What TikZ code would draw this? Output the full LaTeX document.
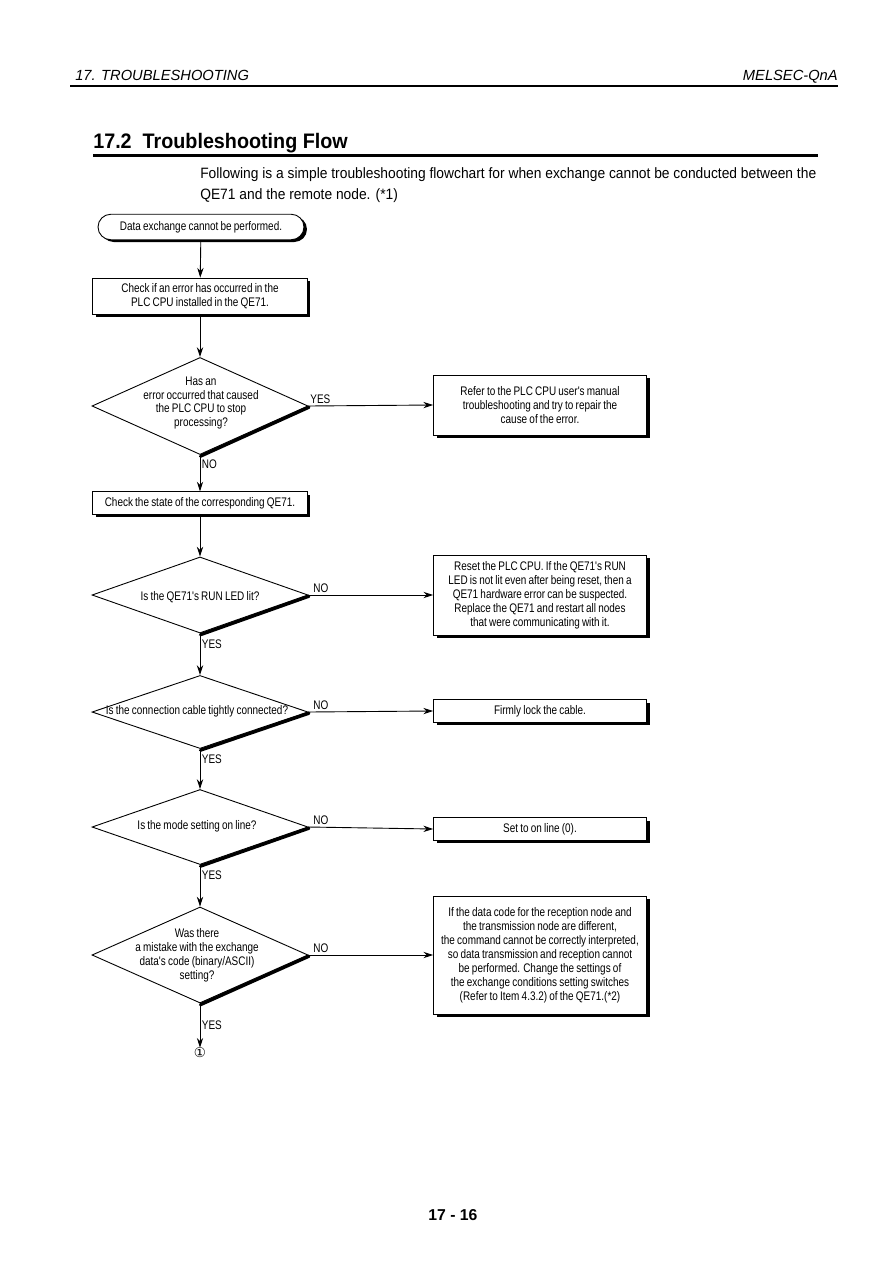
\documentclass[tikz,border=0pt]{standalone}
\usepackage{fontspec}
\setmainfont{Liberation Sans}
\newfontfamily\narrowsans[FakeStretch=0.8, WordSpace=0.8]{Liberation Sans}
\newfontfamily\symfont{DejaVu Sans}
\usepackage{tikz}
\usetikzlibrary{shapes.geometric,shapes.misc,arrows.meta,positioning,shadows,calc}
\newcommand\boxfont{\narrowsans\fontsize{8.3}{9.3}\selectfont}
\tikzset{
  term/.style   ={rounded rectangle, draw, line width=0.6pt, fill=white, font=\boxfont,
                  minimum width=144pt, minimum height=17pt,
                  drop shadow={shadow xshift=2pt, shadow yshift=-1.5pt, fill=black, opacity=1}},
  pbox/.style   ={rectangle, draw, line width=0.5pt, fill=white, font=\boxfont, align=center,
                  minimum width=143pt, inner sep=2pt,
                  drop shadow={shadow xshift=2pt, shadow yshift=-2pt, fill=black, opacity=1}},
  rbox/.style   ={pbox, minimum width=142pt},
  dec/.style    ={diamond, draw, line width=0.6pt, minimum width=144pt, inner sep=0pt},
  dtext/.style  ={font=\boxfont, align=center, inner sep=0pt},
  dshadow/.style={line width=2.2pt, line cap=round},
  flow/.style   ={-{Stealth[length=6.5pt,width=4.2pt]}, line width=0.6pt},
  yn/.style     ={font=\narrowsans\fontsize{8.3}{9}\selectfont, inner sep=1pt}
}
\begin{document}
\begin{tikzpicture}[x=0.6667pt, y=-0.6667pt]
  \useasboundingbox (0,0) rectangle (893,1263);

  % page header
  \node[anchor=base west, font=\itshape\fontsize{9.8}{11}\selectfont, inner sep=0pt] (hdl) at (75,80) {17. TROUBLESHOOTING};
  \node[anchor=base east, font=\itshape\fontsize{9.8}{11}\selectfont, inner sep=0pt] (hdr) at (838,80) {MELSEC-QnA};
  \draw[line width=0.8pt] (70,86) -- (838,86);
  \node[anchor=base west, font=\bfseries\fontsize{14}{16}\selectfont\addfontfeature{FakeStretch=0.94}, inner sep=0pt] (ttl) at (93,148) {17.2\ \ Troubleshooting Flow};
  \draw[line width=2pt] (93,155) -- (818,155);
  \node[anchor=north west, align=left, inner sep=0pt, font=\fontsize{10}{14}\selectfont\addfontfeature{FakeStretch=0.92}] (intro) at (200,167)
    {Following is a simple troubleshooting flowchart for when exchange cannot be conducted between the\\QE71 and the remote node. (*1)};

  % main column
  \node[term] (start) at (201,227) {Data exchange cannot be performed.};
  \node[pbox, minimum height=24pt] (chk1) at (200,296) {Check if an error has occurred in the\\PLC CPU installed in the QE71.};
  \node[dec, minimum height=64.7pt] (d1) at (200,406) {};
  \node[dtext] (d1t) at (201,403) {Has an\\error occurred that caused\\the PLC CPU to stop\\processing?};
  \node[pbox, minimum height=15pt] (chk2) at (200,503) {Check the state of the corresponding QE71.};
  \node[dec, minimum height=50.7pt] (d2) at (200,595) {};
  \node[dtext] (d2t) at (200,597) {Is the QE71's RUN LED lit?};
  \node[dec, minimum height=48.7pt] (d3) at (200,712) {};
  \node[dtext] (d3t) at (197,711) {Is the connection cable tightly connected?};
  \node[dec, minimum height=50pt] (d4) at (200,827) {};
  \node[dtext] (d4t) at (197,826) {Is the mode setting on line?};
  \node[dec, minimum height=64pt] (d5) at (200,955) {};
  \node[dtext] (d5t) at (197,955) {Was there\\a mistake with the exchange\\data's code (binary/ASCII)\\setting?};
  \node[font=\symfont\fontsize{9}{10}\selectfont, inner sep=0pt] (cont) at (200,1053) {①};

  % right column
  \node[rbox, minimum height=40pt] (r1) at (540,405) {Refer to the PLC CPU user's manual\\troubleshooting and try to repair the\\cause of the error.};
  \node[rbox, minimum height=53.3pt] (r2) at (540,595) {Reset the PLC CPU. If the QE71's RUN\\LED is not lit even after being reset, then a\\QE71 hardware error can be suspected.\\Replace the QE71 and restart all nodes\\that were communicating with it.};
  \node[rbox, minimum height=15pt] (r3) at (540,711) {Firmly lock the cable.};
  \node[rbox, minimum height=15pt] (r4) at (540,829) {Set to on line (0).};
  \node[rbox, minimum height=78.7pt] (r5) at (540,955) {If the data code for the reception node and\\the transmission node are different,\\the command cannot be correctly interpreted,\\so data transmission and reception cannot\\be performed. Change the settings of\\the exchange conditions setting switches\\(Refer to Item 4.3.2) of the QE71.(*2)};

  % diamond shadows
  \foreach \d in {d1,d2,d3,d4,d5}
    \draw[dshadow] ([shift={(0.5,1.2)}]\d.east) -- ([shift={(0.5,1.2)}]\d.south);

  % connectors
  \draw[flow] (start) -- (chk1);
  \draw[flow] (chk1) -- (d1);
  \draw[flow] (d1.east) -- node[yn, pos=0, anchor=south west]{YES} (r1.west);
  \draw[flow] (d1.south) -- node[yn, near start, anchor=west]{NO} (chk2);
  \draw[flow] (chk2) -- (d2);
  \draw[flow] (d2.east) -- node[yn, pos=0, anchor=south west, xshift=2pt]{NO} (r2.west);
  \draw[flow] (d2.south) -- node[yn, near start, anchor=west]{YES} (d3.north);
  \draw[flow] (d3.east) -- node[yn, pos=0, anchor=south west, xshift=2pt]{NO} (r3.west);
  \draw[flow] (d3.south) -- node[yn, near start, anchor=west]{YES} (d4.north);
  \draw[flow] (d4.east) -- node[yn, pos=0, anchor=south west, xshift=2pt]{NO} (r4.west);
  \draw[flow] (d4.south) -- node[yn, near start, anchor=west]{YES} (d5.north);
  \draw[flow] (d5.east) -- node[yn, pos=0, anchor=south west, xshift=2pt]{NO} (r5.west);
  \draw[flow] (d5.south) -- node[yn, midway, anchor=west]{YES} (cont);

  % page number
  \node[font=\bfseries\fontsize{10.5}{12}\selectfont] (pgno) at (453,1215) {17 - 16};
\end{tikzpicture}
\end{document}
